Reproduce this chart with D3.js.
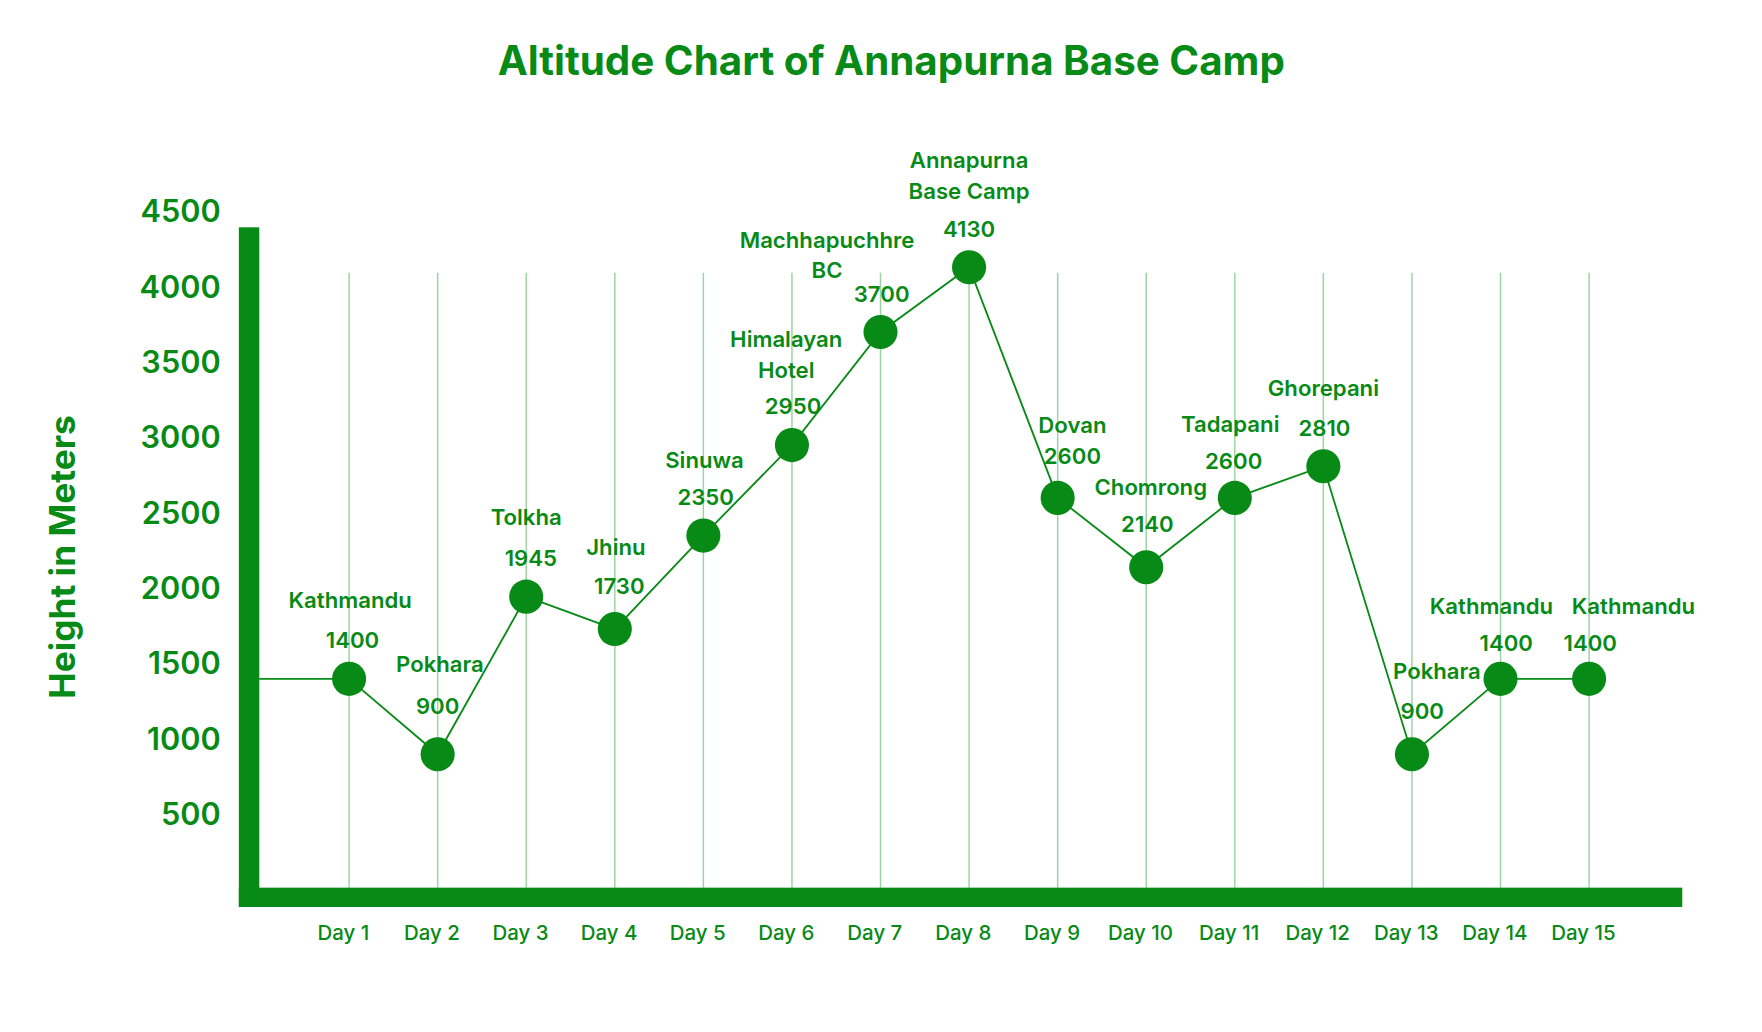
<!DOCTYPE html><html><head><meta charset="utf-8">
<script src="https://cdn.jsdelivr.net/npm/d3@7"></script>
<style>body{margin:0;background:#fff}text{font-family:Inter,"Noto Sans",sans-serif}</style></head><body>
<svg id="c" width="1762" height="1032" viewBox="0 0 1550 908"></svg>
<script>
const days = ["Day 1","Day 2","Day 3","Day 4","Day 5","Day 6","Day 7","Day 8","Day 9","Day 10","Day 11","Day 12","Day 13","Day 14","Day 15"];
const heights = [1400,900,1945,1730,2350,2950,3700,4130,2600,2140,2600,2810,900,1400,1400];
const places = [["Kathmandu"],["Pokhara"],["Tolkha"],["Jhinu"],["Sinuwa"],["Himalayan","Hotel"],["Machhapuchhre","BC"],["Annapurna","Base Camp"],["Dovan"],["Chomrong"],["Tadapani"],["Ghorepani"],["Pokhara"],["Kathmandu"],["Kathmandu"]];
const yTicks = [500,1000,1500,2000,2500,3000,3500,4000,4500];
// label layout offsets: [value dx, value dy, name dx, name dy(last line)]
const labelOff = [[3,-34,1,-69],[0,-42,2,-79],[4,-34,0,-70],[4,-38,1,-72],[2,-34,1,-66],[1,-34,-5,-66],[1,-33,-47,-54],[0,-33,0,-67],[13,-37,13,-64],[1,-38,4,-70],[-1,-32,-4,-65],[1,-33,0,-69],[9,-38,22,-73],[5,-31,-8,-64],[1,-31,39,-64]];

const G="#078a16";
const svg=d3.select("#c");
const x=d3.scalePoint().domain(days).range([307,1398]);
const y=d3.scaleLinear().domain([0,4500]).range([783,186]);

svg.append("text").attr("x",784).attr("y",66).attr("text-anchor","middle").attr("fill",G)
 .attr("font-size",35.5).attr("font-weight",700).text("Altitude Chart of Annapurna Base Camp");

svg.append("g").selectAll("line").data(days).join("line")
 .attr("x1",d=>x(d)).attr("x2",d=>x(d)).attr("y1",240).attr("y2",781)
 .attr("stroke","#9dd3a2").attr("stroke-width",1.3);

svg.append("rect").attr("x",210).attr("y",200).attr("width",18).attr("height",598).attr("fill",G);
svg.append("rect").attr("x",210).attr("y",781).attr("width",1270).attr("height",17).attr("fill",G);

svg.append("g").selectAll("text").data(yTicks).join("text")
 .attr("x",194).attr("y",d=>y(d)).attr("dy","0.35em").attr("text-anchor","end")
 .attr("fill",G).attr("font-size",27).attr("font-weight",600).text(d=>d);
svg.append("text").attr("transform","translate(66,490) rotate(-90)").attr("text-anchor","middle")
 .attr("fill",G).attr("font-size",31).attr("font-weight",700).text("Height in Meters");

svg.append("g").selectAll("text").data(days).join("text")
 .attr("x",d=>x(d)-5).attr("y",827).attr("text-anchor","middle")
 .attr("fill",G).attr("font-size",18).attr("font-weight",500).text(d=>d);

const pts=[[228,y(heights[0])]].concat(days.map((d,i)=>[x(d),y(heights[i])]));
svg.append("path").attr("d",d3.line()(pts)).attr("fill","none").attr("stroke",G).attr("stroke-width",1.6);
svg.append("g").selectAll("circle").data(days).join("circle")
 .attr("cx",d=>x(d)).attr("cy",(d,i)=>y(heights[i])).attr("r",15).attr("fill",G);

const lg=svg.append("g").attr("fill",G).attr("font-size",19.5).attr("font-weight",600).attr("text-anchor","middle");
days.forEach((d,i)=>{
  const px=x(d), py=y(heights[i]), o=labelOff[i];
  lg.append("text").attr("x",px+o[0]).attr("y",py+o[1]).attr("dy","0.35em").text(heights[i]);
  const lines=places[i];
  lines.forEach((t,j)=>{
    lg.append("text").attr("x",px+o[2]).attr("y",py+o[3]-(lines.length-1-j)*27).attr("dy","0.35em").text(t);
  });
});
</script></body></html>
